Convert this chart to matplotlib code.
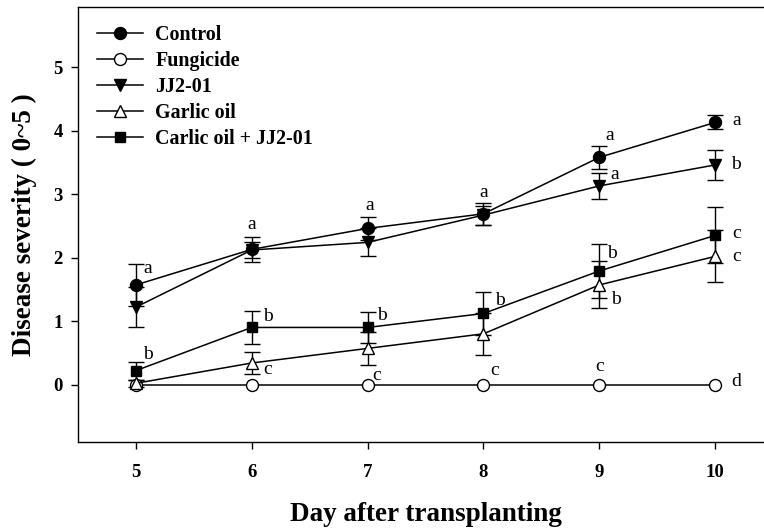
import matplotlib
matplotlib.use("Agg")
import matplotlib.pyplot as plt

# ---------------- data ----------------
days = [5, 6, 7, 8, 9, 10]

series_names = ["Control", "Fungicide", "JJ2-01", "Garlic oil", "Carlic oil + JJ2-01"]

control = [1.57, 2.13, 2.46, 2.69, 3.58, 4.13]
control_err = [0.33, 0.20, 0.18, 0.17, 0.18, 0.11]
fungicide = [0.0, 0.0, 0.0, 0.0, 0.0, 0.0]
fungicide_err = [0.0, 0.0, 0.0, 0.0, 0.0, 0.0]
jj201 = [1.22, 2.12, 2.24, 2.67, 3.13, 3.46]
jj201_err = [0.31, 0.12, 0.22, 0.15, 0.20, 0.24]
garlic = [0.02, 0.34, 0.57, 0.80, 1.57, 2.02]
garlic_err = [0.06, 0.17, 0.26, 0.33, 0.37, 0.41]
combo = [0.22, 0.90, 0.90, 1.12, 1.79, 2.35]
combo_err = [0.14, 0.26, 0.25, 0.34, 0.43, 0.44]

# significance letters ('' = none shown)
control_letters = ["a", "a", "a", "a", "a", "a"]
fungicide_letters = ["", "", "c", "c", "c", "d"]
jj201_letters = ["", "", "", "", "a", "b"]
garlic_letters = ["", "c", "", "", "b", "c"]
combo_letters = ["b", "b", "b", "b", "b", "c"]

yticks = [0, 1, 2, 3, 4, 5]
xlabel = "Day after transplanting"
ylabel = "Disease severity ( 0~5 )"

# ---------------- layout / style ----------------
# letter offsets in pixels (dx right, dy up) relative to letter centre
control_off = [(12, 16), (0, 25), (2, 23), (0, 21), (10, 22), (21, 2)]
fungicide_off = [(0, 0), (0, 0), (9, 9), (11, 14), (0, 18), (21, 3)]
jj201_off = [(0, 0), (0, 0), (0, 0), (0, 0), (15, 11), (21, 0)]
garlic_off = [(0, 0), (16, -7), (0, 0), (0, 0), (17, -15), (21, 0)]
combo_off = [(12, 16), (16, 11), (14, 12), (16, 13), (13, 17), (21, 2)]

SERIF = ["Liberation Serif", "DejaVu Serif"]
plt.rcParams["font.family"] = SERIF

DPI = 100
fig = plt.figure(figsize=(7.64, 5.29), dpi=DPI)
ax = fig.add_axes([0.102, 0.165, 0.91, 0.822])

px2pt = 72.0 / DPI

styles = [
    dict(marker="o", mfc="black", ms=8.6),
    dict(marker="o", mfc="white", ms=8.6),
    dict(marker="v", mfc="black", ms=8.4),
    dict(marker="^", mfc="white", ms=8.4),
    dict(marker="s", mfc="black", ms=7.2),
]
values = [control, fungicide, jj201, garlic, combo]
errs = [control_err, fungicide_err, jj201_err, garlic_err, combo_err]
letters = [control_letters, fungicide_letters, jj201_letters, garlic_letters, combo_letters]
offsets = [control_off, fungicide_off, jj201_off, garlic_off, combo_off]

handles = []
for name, v, e, st in zip(series_names, values, errs, styles):
    has_err = any(x > 0 for x in e)
    h = ax.errorbar(days, v, yerr=e if has_err else None, color="black",
                    lw=1.1, mec="black", mew=1.0, capsize=6, capthick=1.0,
                    elinewidth=1.0, label=name, **st)
    handles.append(h[0])

for v, labs, offs in zip(values, letters, offsets):
    for d, val, lab, (dx, dy) in zip(days, v, labs, offs):
        if not lab:
            continue
        ax.annotate(lab, xy=(d, val), xytext=(dx * px2pt, (dy - 4.5) * px2pt),
                    textcoords="offset points", ha="center", va="baseline",
                    fontsize=14, family=SERIF)

ax.set_xlim(4.5, 10.5)
ax.set_ylim(-0.9, 5.95)
ax.set_xticks(days)
ax.set_yticks(yticks)
ax.set_xticklabels([str(d) for d in days], fontweight="bold", fontsize=13.5)
ax.set_yticklabels([str(t) for t in yticks], fontweight="bold", fontsize=13.5)
ax.tick_params(axis="x", direction="out", length=5, width=1, pad=11)
ax.tick_params(axis="y", direction="out", length=5, width=1, pad=6)
for s in ax.spines.values():
    s.set_linewidth(1.0)

ax.set_xlabel(xlabel, fontsize=19.5, fontweight="bold", labelpad=15)
ax.set_ylabel(ylabel, fontsize=19.5, fontweight="bold", labelpad=12)

leg = ax.legend(handles=handles, labels=series_names, loc="upper left",
                bbox_to_anchor=(0.028, 0.959),
                frameon=False, prop=dict(family=SERIF, weight="bold", size=14.4),
                handlelength=2.3, handletextpad=0.6, labelspacing=0.3,
                borderaxespad=0, borderpad=0)

fig.savefig("out.png", dpi=DPI)
